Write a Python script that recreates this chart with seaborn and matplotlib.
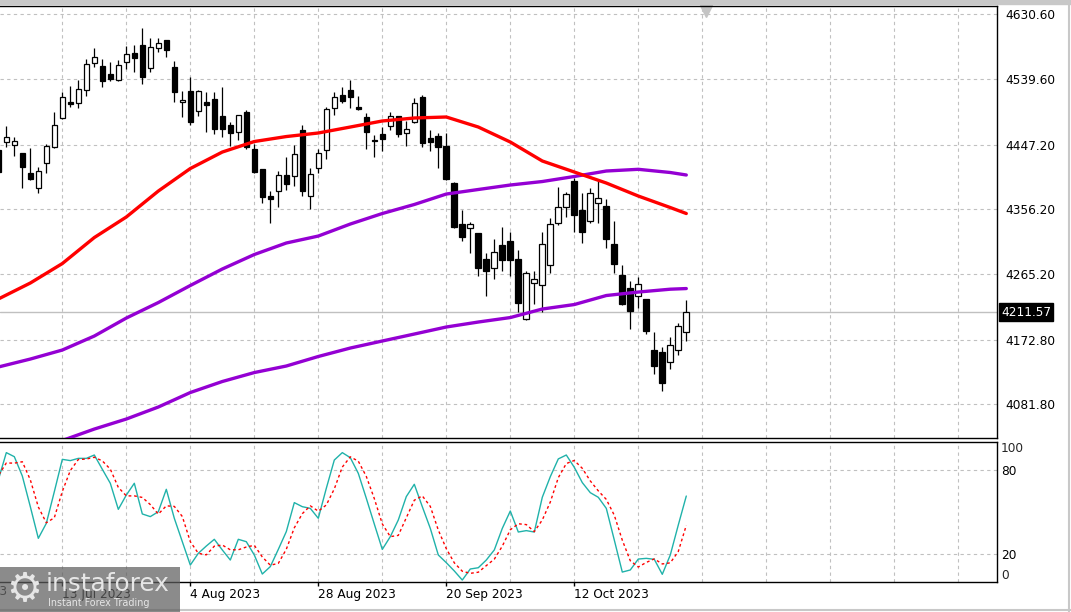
import numpy as np
import matplotlib.pyplot as plt
import matplotlib.transforms as mtransforms
from matplotlib.patches import Rectangle
from matplotlib.lines import Line2D
import pandas as pd
import seaborn as sns

sns.set_theme(style='white')
plt.rcParams['font.family'] = ['DejaVu Sans']

# daily candles, first one is cut by the left edge
opens = [4439.6, 4451.3, 4446.3, 4435.0, 4406.9, 4385.7, 4421.8, 4444.3, 4485.1, 4507.2,
         4505.4, 4523.7, 4562.5, 4557.8, 4546.6, 4538.6, 4563.9, 4576.1, 4587.4, 4554.6,
         4582.8, 4594.0, 4556.9, 4507.2, 4522.7, 4494.9, 4507.2, 4511.0, 4487.5, 4474.8,
         4464.5, 4492.7, 4441.1, 4412.9, 4374.9, 4381.5, 4404.5, 4403.5, 4468.2, 4374.5,
         4413.9, 4439.6, 4498.3, 4517.7, 4524.1, 4499.7, 4485.7, 4453.7, 4462.2, 4473.0,
         4487.5, 4463.1, 4478.6, 4513.8, 4456.1, 4458.9, 4445.3, 4392.8, 4335.1, 4329.5,
         4322.4, 4285.8, 4273.2, 4306.0, 4311.6, 4286.3, 4201.4, 4252.1, 4250.1, 4277.4,
         4337.3, 4359.9, 4396.0, 4355.2, 4340.2, 4365.5, 4360.8, 4307.4, 4263.7, 4245.0,
         4234.2, 4230.0, 4158.2, 4155.0, 4141.7, 4158.2, 4184.0]
highs = [4449.5, 4473.4, 4457.5, 4436.0, 4442.0, 4416.1, 4448.1, 4493.1, 4521.3, 4529.7,
         4538.1, 4567.7, 4582.8, 4567.3, 4563.5, 4566.3, 4586.0, 4587.4, 4610.9, 4596.8,
         4596.8, 4594.5, 4564.9, 4522.7, 4541.9, 4524.0, 4520.8, 4520.8, 4528.7, 4479.0,
         4489.0, 4495.9, 4448.1, 4413.5, 4382.4, 4410.5, 4429.4, 4446.3, 4474.8, 4413.9,
         4441.5, 4500.6, 4521.7, 4528.3, 4538.1, 4516.1, 4491.3, 4460.8, 4472.4, 4493.1,
         4488.0, 4480.9, 4512.4, 4517.0, 4467.8, 4463.1, 4463.1, 4395.0, 4355.2, 4337.9,
         4323.0, 4295.1, 4314.0, 4331.7, 4324.3, 4298.9, 4269.4, 4269.4, 4324.7, 4343.5,
         4387.2, 4380.5, 4399.8, 4378.7, 4385.7, 4396.0, 4370.3, 4339.7, 4277.8, 4255.3,
         4260.5, 4230.5, 4183.1, 4162.8, 4176.9, 4195.8, 4228.6]
lows = [4400.2, 4444.3, 4431.2, 4386.6, 4397.4, 4379.6, 4407.7, 4442.9, 4483.7, 4500.6,
        4499.2, 4515.6, 4556.9, 4528.7, 4536.7, 4536.7, 4554.0, 4549.8, 4532.1, 4549.0,
        4577.1, 4570.1, 4507.6, 4486.5, 4474.8, 4487.5, 4465.4, 4462.2, 4457.5, 4445.3,
        4453.7, 4440.6, 4407.3, 4364.6, 4336.5, 4359.9, 4383.4, 4389.0, 4374.9, 4356.2,
        4406.9, 4426.6, 4488.9, 4505.8, 4498.3, 4495.9, 4441.1, 4430.2, 4438.2, 4467.8,
        4457.5, 4445.7, 4477.2, 4444.3, 4438.7, 4414.7, 4398.0, 4330.0, 4312.0, 4295.1,
        4262.8, 4234.6, 4258.5, 4269.4, 4262.0, 4212.1, 4200.5, 4222.9, 4212.1, 4266.1,
        4334.5, 4344.9, 4324.7, 4309.2, 4336.5, 4337.3, 4302.2, 4266.1, 4222.0, 4187.8,
        4216.9, 4180.3, 4124.4, 4100.9, 4131.5, 4151.2, 4171.3]
closes = [4408.7, 4457.5, 4451.9, 4416.1, 4399.3, 4409.7, 4444.9, 4474.4, 4513.8, 4504.0,
          4525.1, 4560.2, 4570.1, 4537.2, 4540.0, 4558.8, 4574.7, 4568.7, 4541.9, 4584.2,
          4589.8, 4579.9, 4521.7, 4510.0, 4479.5, 4523.1, 4503.4, 4469.6, 4469.6, 4463.1,
          4488.5, 4443.4, 4408.3, 4373.1, 4370.3, 4404.0, 4391.4, 4433.6, 4382.4, 4405.4,
          4435.4, 4496.9, 4514.6, 4509.3, 4514.6, 4497.3, 4465.4, 4453.0, 4455.5, 4487.1,
          4461.7, 4469.6, 4505.4, 4449.9, 4451.3, 4444.3, 4398.8, 4330.9, 4317.6, 4335.1,
          4273.2, 4269.8, 4296.5, 4284.9, 4284.9, 4224.8, 4266.1, 4258.1, 4306.9, 4335.1,
          4359.0, 4377.7, 4348.6, 4324.7, 4378.7, 4371.7, 4314.8, 4279.6, 4222.9, 4213.5,
          4250.7, 4185.4, 4136.1, 4111.3, 4165.2, 4192.4, 4211.57]

# moving averages
ma_bars = [0, 4, 8, 12, 16, 20, 24, 28, 32, 36, 40, 44, 48, 52, 56, 60, 64, 68, 72, 76, 80, 84, 86]
ma_red = [4230.0, 4252.5, 4279.9, 4316.5, 4345.4, 4381.9, 4413.6, 4436.8, 4451.6, 4458.6,
          4463.6, 4472.0, 4480.5, 4484.7, 4486.1, 4472.0, 4450.9, 4424.2, 4408.7, 4393.2,
          4374.9, 4358.7, 4350.3]
ma_violet_fast = [4134.3, 4145.5, 4158.2, 4177.9, 4203.2, 4225.0, 4249.0, 4272.2, 4292.6, 4308.8,
                  4318.6, 4335.5, 4350.3, 4363.0, 4377.7, 4384.1, 4390.4, 4395.3, 4402.4, 4410.1,
                  4412.5, 4408.0, 4404.5]
ma_violet_slow = [3996.4, 4014.7, 4030.9, 4047.0, 4061.1, 4078.0, 4098.4, 4113.9, 4126.5, 4135.7,
                  4149.1, 4161.0, 4170.9, 4180.7, 4190.6, 4197.6, 4203.9, 4215.9, 4222.2, 4234.9,
                  4239.8, 4243.8, 4244.7]

# stochastic %K and %D
stoch_k = [72.9, 92.4, 89.5, 75.7, 53.8, 31.2, 41.9, 64.5, 87.6, 86.7,
           88.3, 88.3, 90.7, 80.5, 70.5, 51.9, 62.1, 70.5, 48.6, 46.7,
           50.2, 66.2, 45.5, 28.8, 12.1, 20.5, 25.7, 30.5, 22.9, 15.7,
           30.5, 28.8, 19.3, 5.7, 11.0, 23.3, 36.0, 56.7, 53.8, 52.6,
           45.5, 66.9, 87.1, 92.4, 88.8, 77.6, 59.8, 41.4, 23.3, 32.4,
           44.3, 61.0, 69.8, 53.8, 38.3, 19.3, 13.8, 7.9, 1.4, 9.3,
           10.2, 15.7, 22.9, 38.3, 50.7, 35.7, 36.7, 35.7, 60.5, 75.2,
           87.9, 90.7, 81.9, 71.0, 63.8, 60.5, 52.6, 30.0, 7.1, 8.6,
           16.4, 16.9, 16.2, 5.5, 19.3, 40.7, 61.4]
stoch_d = [76.0, 85.0, 84.9, 85.9, 73.0, 53.6, 42.3, 45.9, 64.7, 79.6,
           87.5, 87.8, 89.1, 86.5, 80.6, 67.6, 61.5, 61.5, 60.4, 55.3,
           48.5, 54.4, 54.0, 46.8, 28.8, 20.5, 19.4, 25.6, 26.4, 23.0,
           23.0, 25.0, 26.2, 17.9, 12.0, 13.3, 23.4, 38.7, 48.8, 54.4,
           50.6, 55.0, 66.5, 82.1, 89.4, 86.3, 75.4, 59.6, 41.5, 32.4,
           33.3, 45.9, 58.4, 61.5, 54.0, 37.1, 23.8, 13.7, 7.7, 6.2,
           7.0, 11.7, 16.3, 25.6, 37.3, 41.6, 41.0, 36.0, 44.3, 57.1,
           74.5, 84.6, 86.8, 81.2, 72.2, 65.1, 59.0, 47.7, 29.9, 15.2,
           10.7, 14.0, 16.5, 12.9, 13.7, 21.8, 40.5]

price_ticks = [4630.60, 4539.60, 4447.20, 4356.20, 4265.20, 4172.80, 4081.80]
date_bars = [8, 24, 40, 56, 72]
date_labels = ['13 Jul 2023', '4 Aug 2023', '28 Aug 2023', '20 Sep 2023', '12 Oct 2023']

df = pd.DataFrame({'open': opens, 'high': highs, 'low': lows, 'close': closes})
df['bar'] = np.arange(len(df))
up = df['close'] >= df['open']

fig = plt.figure(figsize=(10.71, 6.12), dpi=100)
ax = fig.add_axes([0, 0.2843, 0.9309, 0.7059])
ax2 = fig.add_axes([0, 0.0490, 0.9309, 0.2288])

grid_bars = np.arange(8, 125, 8)
grid_kw = dict(color='#c0c0c0', linestyle=(0, (3, 3)), linewidth=0.8)

# --- price panel
ax.vlines(df['bar'], df['low'], df['high'], color='black', linewidth=0.9, zorder=2)
ax.bar(df['bar'][up], (df['close'] - df['open'])[up], bottom=df['open'][up], width=0.7,
       color='white', edgecolor='black', linewidth=0.9, zorder=3)
ax.bar(df['bar'][~up], (df['close'] - df['open'])[~up], bottom=df['open'][~up], width=0.7,
       color='black', edgecolor='black', linewidth=0.9, zorder=3)

sns.lineplot(x=ma_bars, y=ma_violet_slow, color='#9400d3', linewidth=2.4, ax=ax, zorder=4)
sns.lineplot(x=ma_bars, y=ma_violet_fast, color='#9400d3', linewidth=2.4, ax=ax, zorder=4)
sns.lineplot(x=ma_bars, y=ma_red, color='#ff0000', linewidth=2.4, ax=ax, zorder=4)

ax.axhline(closes[-1], color='#c0c0c0', linewidth=1, zorder=1)

ax.set_xlim(0.21, 124.84)
ax.set_ylim(4034.4, 4642.3)
ax.set_xticks(grid_bars)
ax.set_yticks(price_ticks)
ax.set_yticklabels([f'{v:.2f}' for v in price_ticks])
ax.yaxis.tick_right()
ax.tick_params(axis='x', length=0, labelbottom=False)
ax.tick_params(axis='y', length=0, pad=5.8, labelsize=8.7, labelcolor='black')
ax.grid(True, **grid_kw)
ax.set_axisbelow(True)
ax.set_xlabel('')
ax.set_ylabel('')
for side in ['top', 'right', 'bottom']:
    ax.spines[side].set_color('black')
    ax.spines[side].set_linewidth(1)
ax.spines['left'].set_visible(False)

trans = mtransforms.blended_transform_factory(ax.transAxes, ax.transData)
ax.text(1.004, closes[-1], f'{closes[-1]:.2f}', transform=trans, color='white', fontsize=8.7,
        va='center', ha='left', bbox=dict(facecolor='black', edgecolor='black', pad=1.6))
ax.plot([88.5], [0.988], marker='v', markersize=8, color='#c4c4c4',
        transform=mtransforms.blended_transform_factory(ax.transData, ax.transAxes), clip_on=False)

# --- stochastic panel
sns.lineplot(x=df['bar'], y=stoch_k, color='#20b2aa', linewidth=1.0, ax=ax2)
sns.lineplot(x=df['bar'], y=stoch_d, color='#ff0000', linewidth=1.0, linestyle=(0, (2, 2)), ax=ax2)

ax2.set_xlim(0.21, 124.84)
ax2.set_ylim(0, 100)
ax2.set_xticks(grid_bars, minor=True)
ax2.set_xticks(date_bars)
ax2.set_xticklabels(date_labels, ha='left')
ax2.set_yticks([80, 20])
ax2.yaxis.tick_right()
ax2.tick_params(axis='x', which='major', length=3, width=1, color='black', pad=1.5,
                labelsize=8.7, labelcolor='black', bottom=True)
ax2.tick_params(axis='x', which='minor', length=0)
ax2.tick_params(axis='y', length=0, pad=2.9, labelsize=8.7, labelcolor='black')
ax2.grid(True, which='both', **grid_kw)
ax2.set_axisbelow(True)
ax2.set_xlabel('')
ax2.set_ylabel('')
for side in ['top', 'right', 'bottom']:
    ax2.spines[side].set_color('black')
    ax2.spines[side].set_linewidth(1)
ax2.spines['left'].set_visible(False)

trans2 = mtransforms.blended_transform_factory(ax2.transAxes, ax2.transData)
ax2.text(1.004, 100, '100', transform=trans2, fontsize=8.7, va='top', ha='left')
ax2.text(1.004, 0, '0', transform=trans2, fontsize=8.7, va='bottom', ha='left')
ax2.text(-8, -0.02, '20 Jun 2023', transform=mtransforms.blended_transform_factory(ax2.transData, ax2.transAxes),
         fontsize=8.7, va='top', ha='left', clip_on=False)

# --- frame bits and watermark
fig.patches.append(Rectangle((0, 1 - 4 / 612), 1, 4 / 612, transform=fig.transFigure,
                             color='#c8c8c8', zorder=0))
fig.lines.append(Line2D([1069 / 1071, 1069 / 1071], [0, 1], transform=fig.transFigure,
                        color='#c8c8c8', linewidth=1.5))
fig.lines.append(Line2D([0, 1], [2 / 612, 2 / 612], transform=fig.transFigure,
                        color='#c8c8c8', linewidth=1.5))
fig.patches.append(Rectangle((0, 0), 180 / 1071, 45 / 612, transform=fig.transFigure,
                             facecolor='#5e5e5e', alpha=0.72, edgecolor='none', zorder=5))
fig.text(6 / 1071, 22 / 612, '\u2699', fontsize=29, color='#e6e6e6', va='center', ha='left', zorder=6)
fig.text(46 / 1071, 28 / 612, 'instaforex', fontsize=17.8, color='#e6e6e6', va='center', ha='left', zorder=6)
fig.text(48 / 1071, 9 / 612, 'Instant Forex Trading', fontsize=6.9, color='#e6e6e6', va='center', ha='left', zorder=6)

fig.savefig('out.png', dpi=100)
